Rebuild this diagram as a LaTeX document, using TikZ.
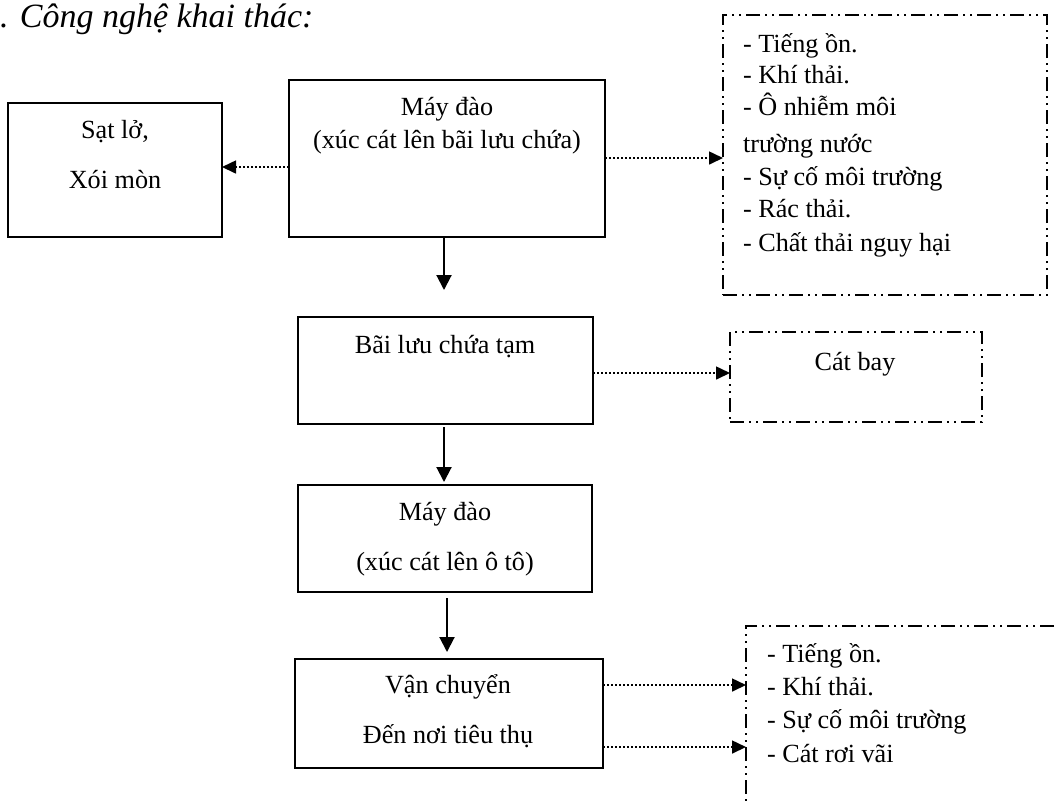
\documentclass[tikz,border=0pt]{standalone}
\usepackage{fontspec}
\setmainfont{Liberation Serif}
\usetikzlibrary{arrows.meta}
\begin{document}
\begin{tikzpicture}[x=0.5pt,y=-0.5pt,
  every node/.style={inner sep=0pt, outer sep=0pt},
  box/.style={draw, line width=1pt, rectangle},
  dashbox/.style={draw, line width=0.9pt,
    dash pattern=on 7pt off 2.5pt on 1pt off 2.5pt on 1pt off 2.5pt},
  lbl/.style={anchor=base, font=\fontsize{13.1pt}{15pt}\selectfont},
  item/.style={anchor=base west, font=\fontsize{13.1pt}{15pt}\selectfont},
  flow/.style={line width=1pt, -{Triangle[length=7.5pt,width=7.5pt]}},
  effect/.style={line width=0.8pt, dash pattern=on 0.8pt off 1.2pt,
    -{Triangle[length=7pt,width=6.5pt]}},
]
\useasboundingbox (0,0) rectangle (1059,805);
\clip (0,0) rectangle (1059,805);

% heading
\node[anchor=base west, font=\fontsize{17pt}{20pt}\selectfont\itshape] (title) at (0,27) {. Công nghệ khai thác:};

% process boxes
\node[box, minimum width=107pt, minimum height=67pt] (slo) at (115,170) {};
\node[box, minimum width=158pt, minimum height=78.5pt] (m1) at (447,158.5) {};
\node[box, minimum width=147.5pt, minimum height=53.5pt] (bai) at (445.5,370.5) {};
\node[box, minimum width=147pt, minimum height=53.5pt] (m2) at (445,538.5) {};
\node[box, minimum width=154pt, minimum height=54.5pt] (vc) at (449,713.5) {};

% impact boxes
\node[dashbox, minimum width=162pt, minimum height=140pt] (r1) at (885,155) {};
\node[dashbox, minimum width=126pt, minimum height=45pt] (cb) at (856,377) {};
\node[dashbox, minimum width=200pt, minimum height=150pt] (r2) at (946,776) {};

% box texts
\node[lbl] (slo1) at (115,138) {Sạt lở,};
\node[lbl] (slo2) at (115,188) {Xói mòn};
\node[lbl] (m1a) at (447,115) {Máy đào};
\node[lbl] (m1b) at (447,148) {(xúc cát lên bãi lưu chứa)};
\node[lbl] (bai1) at (445,353) {Bãi lưu chứa tạm};
\node[lbl] (m2a) at (445,520) {Máy đào};
\node[lbl] (m2b) at (445,570) {(xúc cát lên ô tô)};
\node[lbl] (vc1) at (448,693) {Vận chuyển};
\node[lbl] (vc2) at (448,743) {Đến nơi tiêu thụ};
\node[lbl] (cb1) at (855,370) {Cát bay};

\node[item] (r1a) at (743,52) {- Tiếng ồn.};
\node[item] (r1b) at (743,83) {- Khí thải.};
\node[item] (r1c) at (743,115) {- Ô nhiễm môi};
\node[item] (r1d) at (743,152) {trường nước};
\node[item] (r1e) at (743,185) {- Sự cố môi trường};
\node[item] (r1f) at (743,217) {- Rác thải.};
\node[item] (r1g) at (743,251) {- Chất thải nguy hại};

\node[item] (r2a) at (767,662) {- Tiếng ồn.};
\node[item] (r2b) at (767,695) {- Khí thải.};
\node[item] (r2c) at (767,728) {- Sự cố môi trường};
\node[item] (r2d) at (767,762) {- Cát rơi vãi};

% main flow
\draw[flow, shorten >=13.5pt] (444,0 |- m1.south) -- (444,0 |- bai.north);
\draw[flow, shorten <=1.5pt, shorten >=1.5pt] (444,0 |- bai.south) -- (444,0 |- m2.north);
\draw[flow, shorten <=3pt, shorten >=3.5pt] (447,0 |- m2.south) -- (447,0 |- vc.north);

% impacts
\draw[effect] (m1.west |- 0,167) -- (slo.east |- 0,167);
\draw[effect] (m1.east |- 0,158) -- (r1.west |- 0,158);
\draw[effect] (bai.east |- 0,373) -- (cb.west |- 0,373);
\draw[effect] (vc.east |- 0,685) -- (r2.west |- 0,685);
\draw[effect] (vc.east |- 0,747) -- (r2.west |- 0,747);
\end{tikzpicture}
\end{document}
